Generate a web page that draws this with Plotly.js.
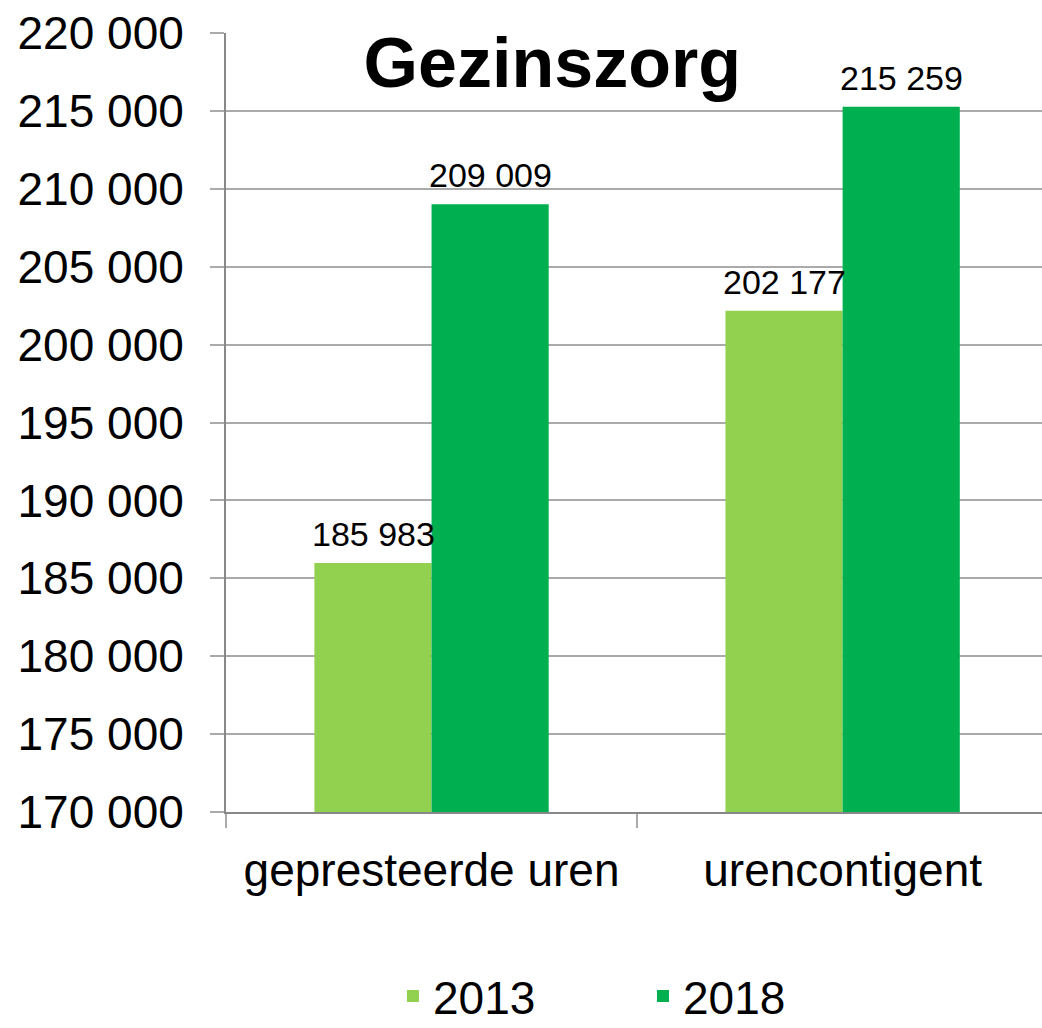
<!DOCTYPE html>
<html>
<head>
<meta charset="utf-8">
<script src="https://cdn.plot.ly/plotly-3.0.1.min.js"></script>
<style>html,body{margin:0;padding:0;background:#fff;overflow:hidden}</style>
</head>
<body>
<div id="chart" style="width:1042px;height:1028px"></div>
<script>
const categories = ["gepresteerde uren", "urencontigent"];
const series2013 = [185983, 202177];
const series2018 = [209009, 215259];
const seriesNames = ["2013", "2018"];
const yTickVals = [170000, 175000, 180000, 185000, 190000, 195000, 200000, 205000, 210000, 215000, 220000];

const FONT = "Liberation Sans, Arial, sans-serif";
const COLORS = ["#92D050", "#00B050"];
const allSeries = [series2013, series2018];

const traces = allSeries.map((vals, i) => ({
  type: "bar", name: seriesNames[i], x: categories, y: vals,
  marker: {color: COLORS[i]}, hoverinfo: "none"
}));

const fmt = v => String(v).replace(/\B(?=(\d{3})+(?!\d))/g, " ");
const annotations = [];
allSeries.forEach((vals, i) => {
  vals.forEach((v, j) => {
    annotations.push({
      x: categories[j], y: v, xref: "x", yref: "y",
      text: fmt(v), showarrow: false,
      xanchor: "center", yanchor: "bottom",
      xshift: (i === 0 ? -58.5 : 58.5), yshift: 8,
      font: {family: FONT, size: 34, color: "#000"}
    });
  });
});

const layout = {
  width: 1042, height: 1028,
  separators: ", ",
  font: {family: FONT, color: "#000"},
  paper_bgcolor: "#fff", plot_bgcolor: "#fff",
  margin: {l: 226, r: 0, t: 33, b: 216, pad: 0, autoexpand: false},
  title: {
    text: "<b>Gezinszorg</b>",
    font: {family: FONT, size: 70, color: "#000"},
    x: 0.53, xanchor: "center", y: 0.939, yanchor: "middle"
  },
  barmode: "group", bargap: 0.43, bargroupgap: 0,
  xaxis: {
    type: "category", range: [-0.5, 1.485], automargin: false,
    showline: true, linecolor: "#888", linewidth: 2,
    ticks: "outside", tickson: "boundaries", ticklen: 14, tickcolor: "#aaa", tickwidth: 2,
    ticklabelstandoff: 17,
    tickfont: {family: FONT, size: 46, color: "#000"},
    showgrid: false, zeroline: false
  },
  yaxis: {
    range: [170000, 220000], tickvals: yTickVals, tickformat: ",d", automargin: false,
    showline: true, linecolor: "#888", linewidth: 2,
    ticks: "outside", ticklen: 14, tickcolor: "#aaa", tickwidth: 2,
    ticklabelstandoff: 17,
    tickfont: {family: FONT, size: 46, color: "#000"},
    showgrid: true, gridcolor: "#aaa", gridwidth: 2, zeroline: false
  },
  annotations: annotations,
  showlegend: true,
  legend: {
    orientation: "h", x: 0.511, xanchor: "center",
    yref: "container", y: 0.031, yanchor: "middle",
    font: {family: FONT, size: 46, color: "#000"},
    entrywidth: 205, traceorder: "normal"
  }
};

Plotly.newPlot("chart", traces, layout, {displayModeBar: false, staticPlot: true});
</script>
</body>
</html>
